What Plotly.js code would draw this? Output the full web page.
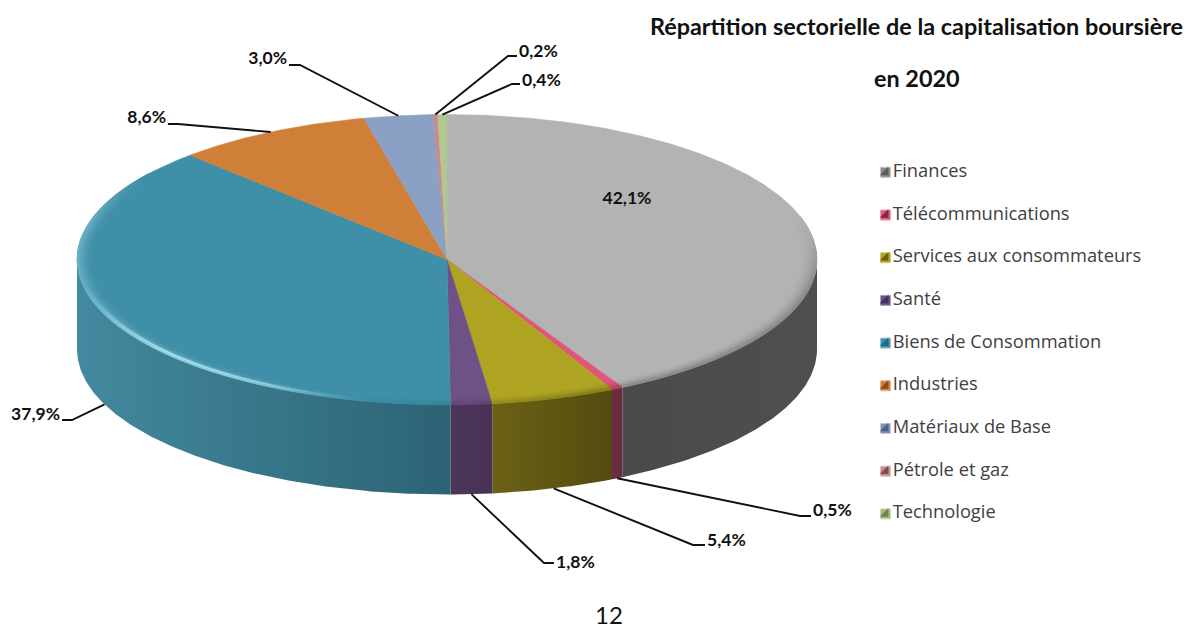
<!DOCTYPE html>
<html><head><meta charset="utf-8">
<script src="https://cdn.plot.ly/plotly-3.0.1.min.js"></script>
<style>html,body{margin:0;padding:0;background:#fff}#c{width:1192px;height:628px}</style>
</head><body><div id="c"></div>
<script>
// --- data ---
const categories = ["Finances","Télécommunications","Services aux consommateurs","Santé","Biens de Consommation","Industries","Matériaux de Base","Pétrole et gaz","Technologie"];
const values = [42.1,0.5,5.4,1.8,37.9,8.6,3.0,0.2,0.4];
const titleLine1 = "Répartition sectorielle de la capitalisation boursière";
const titleLine2 = "en 2020";
const pageNumber = "12";
// --- style ---
const topColors  = ["#b3b3b3","#e0557a","#aea422","#6e5186","#3f8fa8","#cf7f38","#8aa0c5","#c98a8f","#b0c890"];
const sideFrom   = ["#4a4a4a","#6e2a40","#6b6215","#4a3558","#43899f","#8a5526","#5c6c88","#875d60","#768660"];
const sideTo     = ["#4f4f4f","#6a2a3e","#544a10","#483356","#2c6374","#8a5526","#5c6c88","#875d60","#768660"];
const swatchDark = ["#5e5e5e","#7a2a44","#6b6215","#46305c","#23697f","#8a4f1e","#4f5f85","#7a4f52","#6f8452"];
const swatchMid  = ["#8a8a8a","#e0557a","#aea422","#6e5186","#3f8fa8","#cf7f38","#7d92b8","#c98a8f","#a0b880"];
const swatchRim  = ["#c8c8c8","#eba0b5","#cfc97a","#b0a0c0","#9cc8d6","#e5b88f","#c0cde0","#e0c0c2","#cfdcbc"];
// --- geometry of the drawing ---
const CX=447, CY=259.5, RX=370, RY=145, DEPTH=90;
// leader elbow [x,y], stub end x, null = label inside the slice
const leaderElbow = [null,[800,516,811],[693,545,705],[544,563,554],[72,420,62],[178,124,168],[300,65,289],[508,56,517],[512,84,520]];
const labelLift = [0,4,3,-1,4,5,5,3,2];
const insideLabel = [627,200];
const legendX=885.5, legendY0=172.3, legendStep=42.7;

const total = values.reduce((a,b)=>a+b,0);
const edges=[0]; values.forEach(v=>edges.push(edges[edges.length-1]+v/total*360));
const rad=d=>d*Math.PI/180;
const px=(t,f=1)=>CX+RX*f*Math.sin(rad(t));
const py=(t,f=1)=>CY-RY*f*Math.cos(rad(t));
function arc(a,b,f=1){const n=Math.max(2,Math.ceil((b-a)/0.5));const xs=[],ys=[];for(let i=0;i<=n;i++){const t=a+(b-a)*i/n;xs.push(px(t,f));ys.push(py(t,f));}return [xs,ys];}
const hex=c=>[1,3,5].map(i=>parseInt(c.substr(i,2),16));
const mix=(c,m,k)=>{const a=hex(c),b=hex(m);return 'rgb('+a.map((v,i)=>Math.round(v+(b[i]-v)*k)).join(',')+')';};
const smooth=(a,b,x)=>{const t=Math.min(1,Math.max(0,(x-a)/(b-a)));return t*t*(3-2*t);};

const traces=[];
// sides (front half only)
categories.forEach((name,i)=>{
  const a=Math.max(edges[i],90), b=Math.min(edges[i+1],270);
  if(b<=a) return;
  const [xs,ys]=arc(a,b);
  const X=xs.concat(xs.slice().reverse()), Y=ys.concat(ys.slice().reverse().map(v=>v+DEPTH));
  traces.push({type:'scatter',mode:'lines',name:name+' (côté)',x:X,y:Y,fill:'toself',hoverinfo:'skip',showlegend:false,
    line:{width:0,color:sideFrom[i]},
    fillgradient:{type:'horizontal',colorscale:[[0,sideFrom[i]],[1,sideTo[i]]]}});
});
// top faces
categories.forEach((name,i)=>{
  const [xs,ys]=arc(edges[i],edges[i+1]);
  traces.push({type:'scatter',mode:'lines',name:name,x:[CX].concat(xs,[CX]),y:[CY].concat(ys,[CY]),fill:'toself',
    fillcolor:topColors[i],line:{width:0.5,color:topColors[i]},hoverinfo:'skip',showlegend:false});
});
// bevel along the rim
(function(){
  const X=[],Y=[],C=[];
  const F0=0.95, F1=0.997;
  for(let k=0;k<=9;k++){
    const f=F0+(F1-F0)*k/9;
    for(let t=70;t<=310;t+=0.3){
      const i=edges.findIndex((e,j)=>t>=e&&t<edges[j+1]); if(i<0) continue;
      const u=(f-F0)/(F1-F0);
      const dark=0.22*smooth(70,105,t)*(1-smooth(150,200,t))*u*u;
      const lightWide=0.30*smooth(190,225,t)*(1-smooth(283,308,t))*u*u;
      const lightLine=0.62*smooth(192,212,t)*(1-smooth(228,262,t))*Math.exp(-Math.pow((f-0.992)/0.006,2));
      const l=lightWide+lightLine;
      if(dark<0.004&&l<0.004) continue;
      const base=topColors[i];
      X.push(px(t,f));Y.push(py(t,f));
      C.push(dark>l?mix(base,'#000000',dark):mix(base,'#c4f6ff',l));
    }
  }
  traces.push({type:'scatter',mode:'markers',name:'biseau',x:X,y:Y,hoverinfo:'skip',showlegend:false,
    marker:{size:2.4,color:C,line:{width:0}}});
})();
// leader lines
(function(){
  const X=[],Y=[];
  categories.forEach((n,i)=>{
    const e=leaderElbow[i]; if(!e) return;
    const t=(edges[i]+edges[i+1])/2;
    const front=t>90&&t<270;
    X.push(px(t),e[0],e[2],null);
    Y.push(py(t)+(front?DEPTH:0),e[1],e[1],null);
  });
  traces.push({type:'scatter',mode:'lines',name:'repères',x:X,y:Y,hoverinfo:'skip',showlegend:false,
    line:{color:'#111111',width:1.9}});
})();
// value labels
(function(){
  const X=[],Y=[],T=[],P=[];
  categories.forEach((n,i)=>{
    const e=leaderElbow[i];
    T.push(values[i].toFixed(1).replace('.',',')+'%');
    if(!e){X.push(insideLabel[0]);Y.push(insideLabel[1]);P.push('middle center');return;}
    const right=e[2]>e[0];
    X.push(e[2]+(right?2:-2));Y.push(e[1]-labelLift[i]);
    P.push(right?'middle right':'middle left');
  });
  traces.push({type:'scatter',mode:'text',name:'valeurs',x:X,y:Y,text:T,textposition:P,hoverinfo:'skip',showlegend:false,
    textfont:{family:'Lato,sans-serif',size:17.5,weight:700,color:'#111111'}});
})();
// legend
const ly=categories.map((c,i)=>legendY0+i*legendStep), lx=categories.map(()=>legendX);
traces.push({type:'scatter',mode:'markers+text',name:'légende',x:lx,y:ly,text:categories.map(c=>c),textposition:'middle right',
  hoverinfo:'skip',showlegend:false,cliponaxis:false,
  textfont:{family:'"Open Sans",sans-serif',size:18.3,color:'#404040'},
  marker:{symbol:'square',size:10,color:swatchMid,line:{width:1,color:swatchRim}}});
traces.push({type:'scatter',mode:'markers',name:'légende ombre',x:lx,y:ly,hoverinfo:'skip',showlegend:false,
  marker:{symbol:'triangle-se',size:9.5,color:swatchDark,line:{width:0}}});

const titleFont={family:'Lato,sans-serif',size:23.4,weight:700,color:'#111111'};
const layout={width:1192,height:628,margin:{l:0,r:0,t:0,b:0},paper_bgcolor:'#fff',plot_bgcolor:'#fff',showlegend:false,
  title:{text:titleLine1,x:916.5/1192,xanchor:'center',y:0.97,yref:'container',yanchor:'top',font:titleFont},
  xaxis:{range:[0,1192],visible:false,fixedrange:true},
  yaxis:{range:[628,0],visible:false,fixedrange:true},
  annotations:[
    {text:titleLine2,xref:'x',yref:'y',x:916.5,y:78,showarrow:false,font:titleFont},
    {text:pageNumber,xref:'x',yref:'y',x:609,y:614.5,yanchor:'middle',showarrow:false,font:{family:'Lato,sans-serif',size:24,color:'#111111'}}]};
Plotly.newPlot('c',traces,layout,{displayModeBar:false,staticPlot:true});
</script></body></html>
